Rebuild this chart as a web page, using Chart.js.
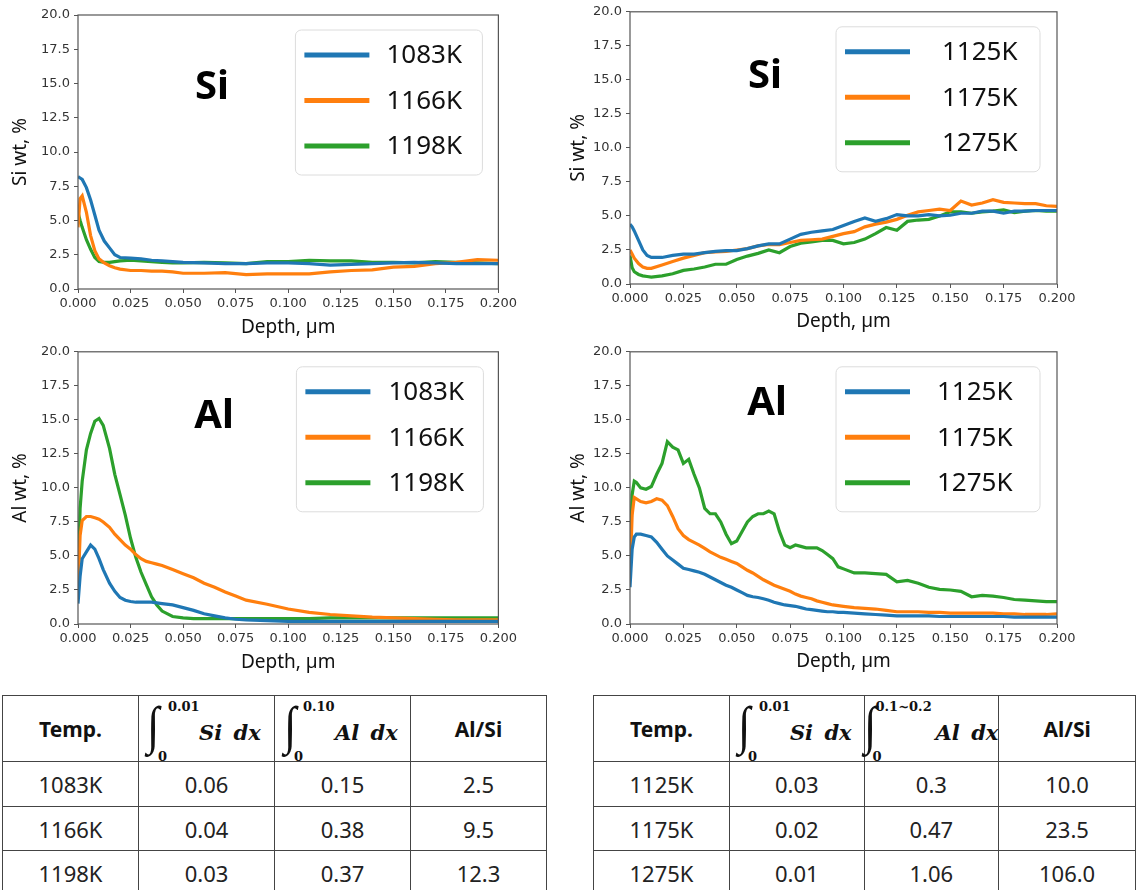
<!DOCTYPE html>
<html>
<head>
<meta charset="utf-8">
<script src="https://cdn.jsdelivr.net/npm/chart.js@4.4.1/dist/chart.umd.min.js"></script>
<style>
  html, body { margin: 0; padding: 0; background: #fff; }
  body { width: 1136px; height: 890px; position: relative; overflow: hidden; font-family: "Noto Sans", sans-serif; }
  .box { position: absolute; }
  .box canvas { display: block; }
  table.tbl { position: absolute; border-collapse: collapse; table-layout: fixed; }
  table.tbl td { border: 1.5px solid #444; text-align: center; vertical-align: middle; padding: 0;
    font-size: 22px; color: #222; font-family: "Noto Sans", sans-serif; }
  table.tbl td.hd { font-weight: bold; font-size: 21px; color: #111; }
  .ic { position: relative; width: 100%; height: 65px; }
  .ic span { position: absolute; white-space: nowrap; line-height: 1; color: #111; }
  .ic .sg { font-family: "Liberation Serif", serif; font-size: 50px; top: 3px; transform: scale(0.9, 1.05); transform-origin: top left; }
  .ic .up { font-family: "DejaVu Serif", serif; font-weight: bold; font-size: 13px; top: 4px; }
  .ic .lo { font-family: "DejaVu Serif", serif; font-weight: bold; font-size: 13px; top: 54px; }
  .ic .ex { font-family: "DejaVu Serif", serif; font-weight: bold; font-style: italic; font-size: 21px; top: 26px; word-spacing: 4px; }
</style>
</head>
<body>
<div class="box" style="left:0px; top:0px;"><canvas id="c1" width="520" height="340"></canvas></div>
<div class="box" style="left:560px; top:0px;"><canvas id="c2" width="576" height="340"></canvas></div>
<div class="box" style="left:0px; top:340px;"><canvas id="c3" width="520" height="340"></canvas></div>
<div class="box" style="left:560px; top:340px;"><canvas id="c4" width="576" height="340"></canvas></div>
<table class="tbl" id="t1" style="left:2px; top:695px;"></table>
<table class="tbl" id="t2" style="left:593px; top:695px;"></table>

<script>
// ---- Si, left set (1083 / 1166 / 1198 K)
const depthSiL = [0, 0.001, 0.002, 0.004, 0.006, 0.008, 0.01, 0.0125, 0.015, 0.0175, 0.02, 0.025, 0.03, 0.035, 0.04, 0.045,
  0.05, 0.06, 0.07, 0.08, 0.09, 0.1, 0.11, 0.12, 0.13, 0.14, 0.15, 0.16, 0.17, 0.18, 0.19, 0.2];
const labelsL = ['1083K', '1166K', '1198K'];
const siL1083 = [8.2, 8.1, 8.0, 7.4, 6.5, 5.4, 4.3, 3.5, 3.0, 2.5, 2.3, 2.25, 2.2, 2.1, 2.05, 2.0,
  1.95, 1.9, 1.85, 1.85, 1.9, 1.9, 1.85, 1.75, 1.8, 1.85, 1.9, 1.95, 1.9, 1.85, 1.85, 1.85];
const siL1166 = [4.5, 6.6, 6.8, 5.6, 3.9, 2.8, 2.2, 1.9, 1.7, 1.55, 1.45, 1.35, 1.35, 1.3, 1.3, 1.25,
  1.15, 1.15, 1.2, 1.05, 1.1, 1.1, 1.1, 1.25, 1.35, 1.4, 1.6, 1.65, 1.85, 1.95, 2.15, 2.1];
const siL1198 = [5.6, 5.0, 4.5, 3.6, 2.9, 2.3, 2.0, 1.95, 1.95, 2.0, 2.05, 2.1, 2.05, 2.0, 1.95, 1.9,
  1.9, 1.95, 1.9, 1.85, 2.0, 2.0, 2.1, 2.05, 2.05, 1.95, 1.95, 1.9, 2.0, 1.95, 1.9, 1.85];

// ---- Si, right set (1125 / 1175 / 1275 K)
const depthSiR = [0, 0.001, 0.002, 0.004, 0.006, 0.008, 0.01, 0.015, 0.02, 0.025, 0.03, 0.035, 0.04, 0.045, 0.05,
  0.055, 0.06, 0.065, 0.07, 0.075, 0.08, 0.085, 0.09, 0.095, 0.1, 0.105, 0.11, 0.115, 0.12, 0.125, 0.13,
  0.135, 0.14, 0.145, 0.15, 0.155, 0.16, 0.165, 0.17, 0.175, 0.18, 0.185, 0.19, 0.195, 0.2];
const labelsR = ['1125K', '1175K', '1275K'];
const siR1125 = [4.4, 4.2, 3.9, 3.2, 2.5, 2.1, 1.95, 1.95, 2.1, 2.2, 2.2, 2.3, 2.4, 2.45, 2.45,
  2.6, 2.8, 2.95, 2.95, 3.3, 3.65, 3.8, 3.9, 4.0, 4.3, 4.6, 4.85, 4.6, 4.8, 5.1, 5.0,
  5.0, 5.1, 5.0, 5.05, 5.2, 5.2, 5.35, 5.35, 5.2, 5.35, 5.35, 5.4, 5.4, 5.4];
const siR1175 = [2.5, 2.2, 1.9, 1.5, 1.25, 1.15, 1.15, 1.4, 1.65, 1.9, 2.1, 2.3, 2.35, 2.4, 2.5,
  2.6, 2.8, 2.9, 2.9, 3.05, 3.2, 3.25, 3.3, 3.5, 3.7, 3.85, 4.2, 4.4, 4.55, 4.75, 5.05,
  5.3, 5.4, 5.5, 5.4, 6.1, 5.8, 5.95, 6.2, 6.0, 5.95, 5.9, 5.9, 5.75, 5.7];
const siR1275 = [2.1, 1.2, 0.9, 0.7, 0.6, 0.55, 0.5, 0.6, 0.75, 1.0, 1.1, 1.25, 1.45, 1.45, 1.8,
  2.05, 2.25, 2.5, 2.3, 2.75, 3.0, 3.1, 3.2, 3.2, 2.95, 3.05, 3.3, 3.7, 4.15, 3.95, 4.6,
  4.7, 4.75, 5.0, 5.3, 5.3, 5.2, 5.3, 5.35, 5.45, 5.25, 5.35, 5.4, 5.35, 5.35];

// ---- Al, left set
const depthAlL = [0, 0.001, 0.002, 0.004, 0.006, 0.008, 0.01, 0.012, 0.015, 0.0175, 0.02, 0.0225, 0.025, 0.0275,
  0.03, 0.0325, 0.035, 0.0375, 0.04, 0.045, 0.05, 0.055, 0.06, 0.065, 0.07, 0.075, 0.08,
  0.09, 0.1, 0.11, 0.12, 0.13, 0.14, 0.15, 0.16, 0.17, 0.18, 0.19, 0.2];
const alL1083 = [1.5, 3.5, 4.8, 5.3, 5.8, 5.5, 4.8, 4.0, 3.0, 2.4, 1.95, 1.75, 1.65, 1.6,
  1.6, 1.6, 1.6, 1.55, 1.5, 1.4, 1.2, 1.0, 0.75, 0.6, 0.45, 0.35, 0.3,
  0.25, 0.2, 0.2, 0.2, 0.2, 0.2, 0.2, 0.2, 0.2, 0.2, 0.2, 0.2];
const alL1166 = [2.5, 6.5, 7.6, 7.9, 7.9, 7.8, 7.7, 7.5, 7.1, 6.6, 6.2, 5.8, 5.5, 5.1,
  4.8, 4.6, 4.5, 4.4, 4.3, 4.0, 3.7, 3.4, 3.0, 2.7, 2.35, 2.05, 1.75,
  1.45, 1.1, 0.85, 0.7, 0.6, 0.5, 0.45, 0.4, 0.35, 0.3, 0.3, 0.3];
const alL1198 = [3.0, 8.5, 10.5, 12.8, 14.0, 14.9, 15.1, 14.6, 12.9, 11.0, 9.5, 8.0, 6.3, 4.9,
  3.8, 2.9, 2.0, 1.4, 0.95, 0.55, 0.45, 0.4, 0.4, 0.4, 0.4, 0.4, 0.4,
  0.4, 0.4, 0.4, 0.45, 0.45, 0.45, 0.45, 0.45, 0.45, 0.45, 0.45, 0.45];

// ---- Al, right set
const depthAlR = [0, 0.001, 0.002, 0.003, 0.005, 0.0075, 0.01, 0.0125, 0.015, 0.0175, 0.02, 0.0225, 0.025, 0.0275,
  0.03, 0.0325, 0.035, 0.0375, 0.04, 0.0425, 0.045, 0.0475, 0.05, 0.0525, 0.055, 0.0575, 0.06, 0.0625,
  0.065, 0.0675, 0.07, 0.0725, 0.075, 0.0775, 0.08, 0.0825, 0.085, 0.0875, 0.09, 0.0925, 0.095, 0.0975,
  0.1, 0.105, 0.11, 0.115, 0.12, 0.125, 0.13, 0.135, 0.14, 0.145, 0.15, 0.155, 0.16, 0.165, 0.17,
  0.175, 0.18, 0.185, 0.19, 0.195, 0.2];
const alR1125 = [2.7, 5.5, 6.4, 6.6, 6.6, 6.5, 6.4, 6.0, 5.5, 5.0, 4.7, 4.4, 4.1, 4.0,
  3.9, 3.8, 3.65, 3.45, 3.25, 3.05, 2.85, 2.7, 2.5, 2.3, 2.1, 2.0, 1.95, 1.85,
  1.75, 1.6, 1.5, 1.4, 1.35, 1.3, 1.2, 1.1, 1.05, 1.0, 0.95, 0.9, 0.9, 0.85,
  0.85, 0.8, 0.75, 0.7, 0.65, 0.6, 0.6, 0.6, 0.6, 0.55, 0.55, 0.55, 0.55, 0.55, 0.55,
  0.55, 0.5, 0.5, 0.5, 0.5, 0.5];
const alR1175 = [3.5, 8.0, 9.3, 9.2, 9.0, 8.9, 9.0, 9.2, 9.1, 8.7, 7.9, 7.0, 6.5, 6.2,
  6.0, 5.8, 5.55, 5.3, 5.1, 4.9, 4.75, 4.6, 4.45, 4.2, 3.95, 3.75, 3.5, 3.25,
  3.05, 2.85, 2.7, 2.55, 2.4, 2.2, 2.05, 1.95, 1.85, 1.7, 1.6, 1.5, 1.4, 1.35,
  1.3, 1.2, 1.15, 1.1, 1.0, 0.9, 0.9, 0.9, 0.85, 0.85, 0.8, 0.8, 0.8, 0.8, 0.8,
  0.75, 0.75, 0.7, 0.7, 0.7, 0.75];
const alR1275 = [4.5, 9.5, 10.5, 10.4, 10.0, 9.9, 10.1, 11.0, 11.8, 13.4, 13.0, 12.8, 11.8, 12.1,
  11.0, 10.0, 8.5, 8.1, 8.1, 7.5, 6.6, 5.9, 6.1, 6.8, 7.5, 7.9, 8.1, 8.1,
  8.3, 8.1, 6.8, 5.8, 5.6, 5.8, 5.7, 5.6, 5.6, 5.6, 5.4, 5.1, 4.8, 4.2,
  4.05, 3.75, 3.75, 3.7, 3.65, 3.1, 3.2, 3.0, 2.7, 2.55, 2.5, 2.4, 2.0, 2.1, 2.05,
  1.95, 1.8, 1.75, 1.7, 1.65, 1.65];

// ---- tables
const tblTempL = ['1083K', '1166K', '1198K'];
const tblSiL = ['0.06', '0.04', '0.03'];
const tblAlL = ['0.15', '0.38', '0.37'];
const tblRatioL = ['2.5', '9.5', '12.3'];
const tblTempR = ['1125K', '1175K', '1275K'];
const tblSiR = ['0.03', '0.02', '0.01'];
const tblAlR = ['0.3', '0.47', '1.06'];
const tblRatioR = ['10.0', '23.5', '106.0'];

const COLORS = ['#1f77b4', '#ff7f0e', '#2ca02c'];

// frame, element label and legend box drawn inside the plot area (matplotlib look)
const decor = {
  id: 'decor',
  afterDatasetsDraw(chart, args, o) {
    const { ctx, chartArea: a } = chart;
    ctx.save();
    ctx.strokeStyle = '#555';
    ctx.lineWidth = 1.2;
    ctx.strokeRect(a.left, a.top, a.right - a.left, a.bottom - a.top);

    ctx.fillStyle = '#000';
    ctx.font = 'bold 40px "Noto Sans"';
    ctx.textAlign = 'center';
    ctx.textBaseline = 'middle';
    ctx.fillText(o.label, a.left + o.labelX, a.top + o.labelY);

    const bx = a.right - o.legRight - o.legW, by = a.top + 15;
    ctx.beginPath();
    ctx.roundRect(bx, by, o.legW, 145, 6);
    ctx.fillStyle = 'rgba(255,255,255,0.85)';
    ctx.fill();
    ctx.strokeStyle = '#dcdcdc';
    ctx.lineWidth = 1;
    ctx.stroke();
    chart.data.datasets.forEach((ds, i) => {
      const y = by + 25 + i * 45.5;
      ctx.strokeStyle = ds.borderColor;
      ctx.lineWidth = 5;
      ctx.beginPath();
      ctx.moveTo(bx + 9, y);
      ctx.lineTo(bx + 74, y);
      ctx.stroke();
      ctx.fillStyle = '#111';
      ctx.font = '26px "Noto Sans"';
      ctx.textAlign = 'left';
      ctx.fillText(ds.label, bx + o.textX, y + 1);
    });
    ctx.restore();
  }
};

function makeChart(id, depth, labels, series, yTitle, o) {
  return new Chart(document.getElementById(id), {
    type: 'line',
    data: {
      datasets: series.map((vals, i) => ({
        label: labels[i],
        data: vals.map((v, j) => ({ x: depth[j], y: v })),
        borderColor: COLORS[i],
        borderWidth: 3.2,
        pointRadius: 0,
        tension: 0,
        fill: false
      }))
    },
    options: {
      responsive: false,
      animation: false,
      events: [],
      layout: { padding: { top: o.padTop, right: o.padRight, left: 0, bottom: 0 } },
      plugins: {
        legend: { display: false },
        tooltip: { enabled: false },
        decor: o
      },
      scales: {
        x: {
          type: 'linear', min: 0, max: 0.2,
          afterFit: s => { s.height = o.xH; },
          ticks: { stepSize: 0.025, callback: v => v.toFixed(3), color: '#333', maxRotation: 0, autoSkip: false,
            padding: 3, font: { family: 'DejaVu Sans', size: 13 } },
          grid: { drawOnChartArea: false, tickLength: 4, color: '#555' },
          border: { display: false },
          title: { display: true, text: 'Depth, µm', color: '#111', font: { family: 'Noto Sans', size: 19 },
            padding: { top: 0, bottom: o.xTitlePad } }
        },
        y: {
          min: 0, max: 20,
          afterFit: s => { s.width = o.yW; },
          ticks: { stepSize: 2.5, callback: v => v.toFixed(1), color: '#333', padding: 4,
            font: { family: 'DejaVu Sans', size: 13 } },
          grid: { drawOnChartArea: false, tickLength: 4, color: '#555' },
          border: { display: false },
          title: { display: true, text: yTitle, color: '#111', font: { family: 'Noto Sans', size: 19 },
            padding: { top: o.yTitlePad, bottom: 0 } }
        }
      }
    },
    plugins: [decor]
  });
}

makeChart('c1', depthSiL, labelsL, [siL1083, siL1166, siL1198], 'Si wt, %',
  { padTop: 15, padRight: 20, yW: 78, xH: 51, xTitlePad: 0.6, yTitlePad: 9.6,
    label: 'Si', labelX: 134, labelY: 73, legRight: 16, legW: 187, textX: 91 });
makeChart('c2', depthSiR, labelsR, [siR1125, siR1175, siR1275], 'Si wt, %',
  { padTop: 8, padRight: 79, yW: 70, xH: 56, xTitlePad: 6.6, yTitlePad: 7.6,
    label: 'Si', labelX: 135, labelY: 65, legRight: 17, legW: 204, textX: 106 });
makeChart('c3', depthAlL, labelsL, [alL1083, alL1166, alL1198], 'Al wt, %',
  { padTop: 10, padRight: 20, yW: 78, xH: 56, xTitlePad: 5.6, yTitlePad: 9.6,
    label: 'Al', labelX: 136, labelY: 65, legRight: 15, legW: 187, textX: 92 });
makeChart('c4', depthAlR, labelsR, [alR1125, alR1175, alR1275], 'Al wt, %',
  { padTop: 10, padRight: 79, yW: 70, xH: 56, xTitlePad: 6.6, yTitlePad: 7.6,
    label: 'Al', labelX: 137, labelY: 52, legRight: 17, legW: 204, textX: 101 });

// integral header cell: offsets for sign, upper limit, lower limit, expression
function intCell(up, expr, p) {
  return '<td><div class="ic">' +
    '<span class="sg" style="left:' + p[0] + 'px">∫</span>' +
    '<span class="up" style="left:' + p[1] + 'px">' + up + '</span>' +
    '<span class="lo" style="left:' + p[2] + 'px">0</span>' +
    '<span class="ex" style="left:' + p[3] + 'px">' + expr + '</span></div></td>';
}

function buildTable(id, widths, temps, si, al, ratio, heads) {
  const t = document.getElementById(id);
  let h = '<colgroup>' + widths.map(w => '<col style="width:' + w + 'px">').join('') + '</colgroup>';
  h += '<tr style="height:65px"><td class="hd">Temp.</td>' +
    intCell(heads[0], 'Si dx', heads[1]) + intCell(heads[2], 'Al dx', heads[3]) +
    '<td class="hd">Al/Si</td></tr>';
  const rh = [45, 44, 45];
  temps.forEach((tp, i) => {
    h += '<tr style="height:' + rh[i] + 'px"><td>' + tp + '</td><td>' + si[i] + '</td><td>' + al[i] +
      '</td><td>' + ratio[i] + '</td></tr>';
  });
  t.innerHTML = h;
}

buildTable('t1', [136, 136, 136, 136], tblTempL, tblSiL, tblAlL, tblRatioL,
  ['0.01', [8, 29, 19, 60], '0.10', [9, 28, 19, 60]]);
buildTable('t2', [137, 136, 136, 138], tblTempR, tblSiR, tblAlR, tblRatioR,
  ['0.01', [8, 29, 18, 60], '0.1~0.2', [-1, 11, 8, 71]]);
</script>
</body>
</html>
